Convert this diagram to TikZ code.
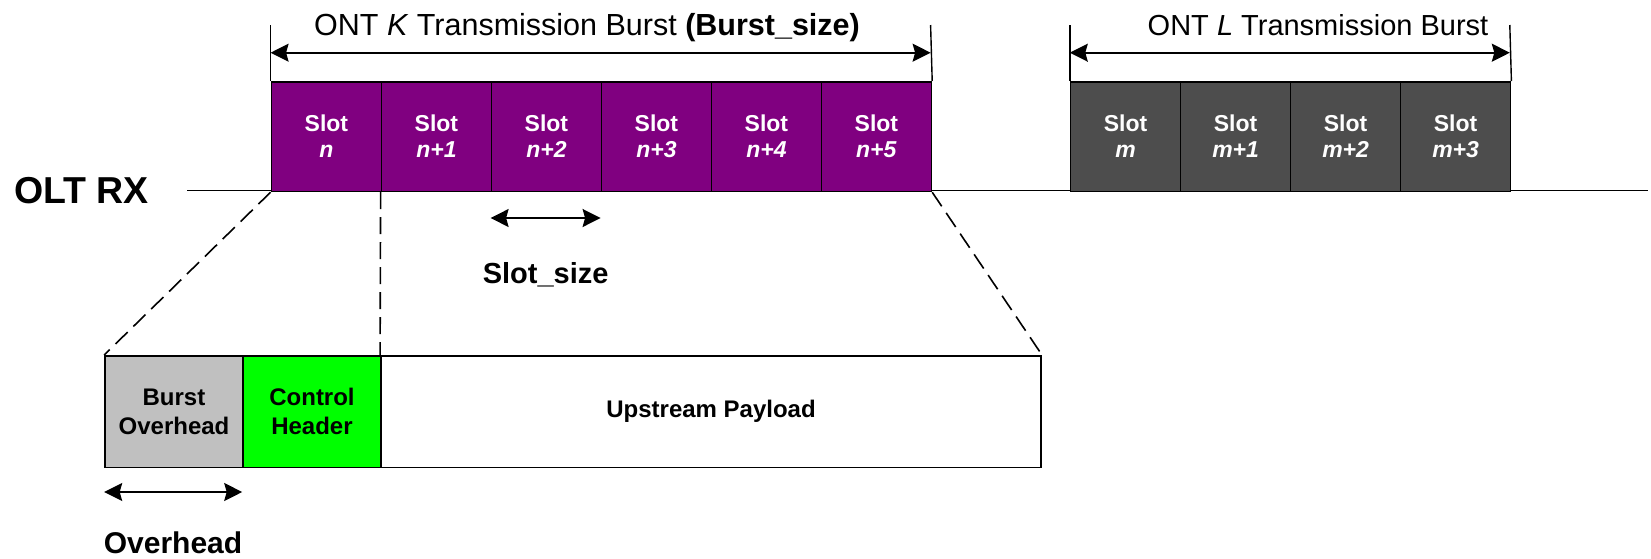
\documentclass[tikz,border=0pt]{standalone}
\usepackage{fontspec}
\setmainfont{Liberation Sans}
\usetikzlibrary{arrows.meta}
\definecolor{slotpurple}{RGB}{128,0,128}
\definecolor{slotgray}{RGB}{77,77,77}
\definecolor{ohgray}{RGB}{192,192,192}
\definecolor{hdrgreen}{RGB}{0,255,0}
\begin{document}
\begin{tikzpicture}[x=1pt,y=-1pt,
  slotbox/.style={draw=black,line width=1.6pt,minimum width=110pt,minimum height=109.6pt,inner sep=0pt,anchor=north west,text=white,font=\fontsize{23}{26}\selectfont\bfseries,align=center},
  kslot/.style={slotbox,fill=slotpurple},
  lslot/.style={slotbox,fill=slotgray},
  framebox/.style={draw=black,line width=1.6pt,minimum height=111.5pt,inner sep=0pt,anchor=north west,font=\fontsize{24}{29}\selectfont\bfseries,align=center},
  dimarrow/.style={line width=1.6pt,{Stealth[length=18pt,width=18pt,inset=2.5pt]}-{Stealth[length=18pt,width=18pt,inset=2.5pt]}},
  tickline/.style={line width=1.4pt},
  zoomline/.style={line width=1.6pt,dash pattern=on 17pt off 8pt}
]
\useasboundingbox (0,0) rectangle (1651,558);
% time axis
\coordinate (lineL) at (187,190.6);
\coordinate (lineR) at (1648,190.6);
\draw[line width=1.7pt] (lineL) -- (lineR);
% ONT K slots
\foreach \i/\lab in {0/n,1/n+1,2/n+2,3/n+3,4/n+4,5/n+5}
  \node[kslot] (s\i) at ({270.6+110*\i},81) {Slot\\\textit{\lab}};
% ONT L slots
\foreach \i/\lab in {0/m,1/m+1,2/m+2,3/m+3}
  \node[lslot] (m\i) at ({1069.8+110*\i},81) {Slot\\\textit{\lab}};
% bottom burst structure
\node[framebox,fill=ohgray,minimum width=138pt] (bo) at (104.2,355) {Burst\\Overhead};
\node[framebox,fill=hdrgreen,minimum width=138pt] (ch) at (242.2,355) {Control\\Header};
\node[framebox,fill=white,minimum width=660.3pt] (up) at (380.1,355) {Upstream Payload};
% zoom lines
\draw[zoomline] (s0.south west) -- (bo.north west);
\draw[zoomline] (s1.south west) -- (up.north west);
\draw[zoomline] (s5.south east) -- (up.north east);
% ONT K burst dimension
\coordinate (kt1) at (270.6,25);
\coordinate (kt2) at (930.6,25);
\coordinate (ka1) at (270.6,52.7);
\coordinate (ka2) at (930.6,52.7);
\draw[tickline] (kt1) -- (s0.north west);
\draw[tickline] (kt2) -- (s5.north east);
\draw[dimarrow] (ka1) -- (ka2);
\node[font=\fontsize{30.5}{36}\selectfont,anchor=base,inner sep=0pt] (ktitle) at (587,35) {ONT \textit{K} Transmission Burst \textbf{(Burst\_size)}};
% ONT L burst dimension
\coordinate (lt1) at (1069.8,25);
\coordinate (lt2) at (1509.8,25);
\coordinate (la1) at (1069.8,52.7);
\coordinate (la2) at (1509.8,52.7);
\draw[tickline] (lt1) -- (m0.north west);
\draw[tickline] (lt2) -- (m3.north east);
\draw[dimarrow] (la1) -- (la2);
\node[font=\fontsize{29}{34}\selectfont,anchor=base,inner sep=0pt] (ltitle) at (1318,35) {ONT \textit{L} Transmission Burst};
% OLT RX
\node[font=\fontsize{37.5}{42}\selectfont\bfseries,anchor=base west,inner sep=0pt] (olt) at (14,203) {OLT RX};
% slot size
\coordinate (ss1) at (490.6,218);
\coordinate (ss2) at (600.6,218);
\draw[dimarrow] (ss1) -- (ss2);
\node[font=\fontsize{29}{34}\selectfont\bfseries,anchor=base,inner sep=0pt] (sslab) at (545.6,283) {Slot\_size};
% overhead
\coordinate (oh1) at (104.2,492);
\coordinate (oh2) at (242.2,492);
\draw[dimarrow] (oh1) -- (oh2);
\node[font=\fontsize{30}{34}\selectfont\bfseries,anchor=base,inner sep=0pt] (ohlab) at (173,553) {Overhead};
\end{tikzpicture}
\end{document}
